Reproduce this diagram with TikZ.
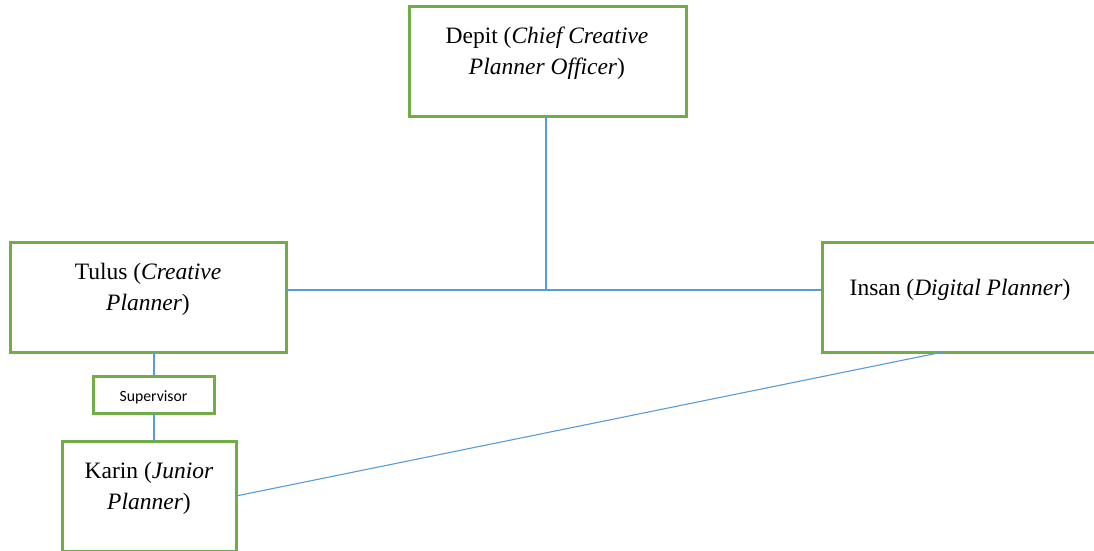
\documentclass[tikz,border=0pt]{standalone}
\usepackage{fontspec}
\setmainfont{Liberation Serif}
\newfontfamily\calib{Carlito}
\definecolor{boxgreen}{RGB}{112,173,71}
\definecolor{lineblue}{RGB}{91,155,213}
\begin{document}
\begin{tikzpicture}[x=1pt,y=-1pt,
  box/.style={draw=boxgreen,line width=3pt,rectangle,inner sep=0pt,outer sep=0pt},
  txt/.style={font=\fontsize{23.5}{31}\selectfont,align=center,inner sep=0pt,anchor=base},
  link/.style={draw=lineblue,line width=1.1pt}]
\useasboundingbox (0,0) rectangle (1094,550);
% boxes
\node[box,minimum width=277pt,minimum height=110pt] (depit) at (547.5,61) {};
\node[box,minimum width=276pt,minimum height=110pt] (tulus) at (148,297) {};
\node[box,minimum width=276pt,minimum height=110pt] (insan) at (960,297) {};
\node[box,minimum width=121pt,minimum height=37pt] (sup) at (153.5,394.5) {};
\node[box,minimum width=174pt,minimum height=110pt] (karin) at (149,496) {};
% texts (base anchor = baseline of the last line)
\node[txt] (tdepit) at (547,74) {Depit (\textit{Chief Creative}\\\textit{Planner Officer})};
\node[txt] (ttulus) at (148,310) {Tulus (\textit{Creative}\\\textit{Planner})};
\node[txt] (tinsan) at (960,295) {Insan (\textit{Digital Planner})};
\node[txt] (tkarin) at (149,509) {Karin (\textit{Junior}\\\textit{Planner})};
\node[font=\calib\fontsize{15.7}{18}\selectfont,inner sep=0pt,anchor=base] (tsup) at (153.5,401.5) {Supervisor};
% connectors
\coordinate (mid) at (546,290);
\draw[link] (depit.south -| mid) -- (mid);
\draw[link] (tulus.east |- mid) -- (insan.west |- mid);
\draw[link] (sup.north -| 154,0) -- (tulus.south -| 154,0);
\draw[link] (sup.south -| 154,0) -- (karin.north -| 154,0);
\draw[link] ([xshift=-17pt]insan.south) -- (karin.east);
\end{tikzpicture}
\end{document}
